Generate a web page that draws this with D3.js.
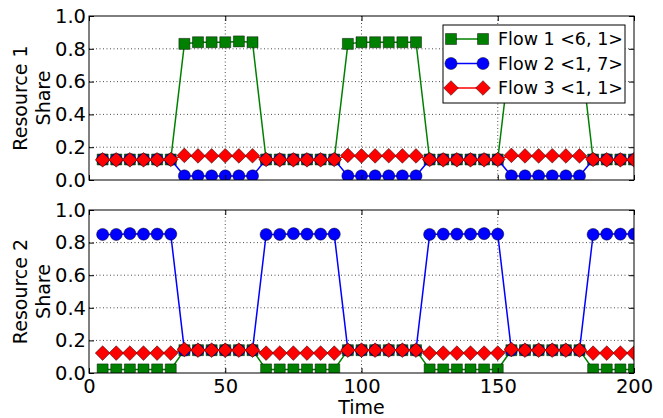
<!DOCTYPE html>
<html>
<head>
<meta charset="utf-8">
<script src="https://cdn.jsdelivr.net/npm/d3@7"></script>
<style>
  body { margin: 0; background: #fff; }
  text { font-family: "DejaVu Sans", sans-serif; }
</style>
</head>
<body>
<div id="vis"></div>
<script>
var width = 663, height = 418;

// time points (every 5 units)
var times = [5,10,15,20,25,30,35,40,45,50,55,60,65,70,75,80,85,90,95,100,
             105,110,115,120,125,130,135,140,145,150,155,160,165,170,175,180,185,190,195,200];

// resource 1 shares
var r1Flow1 = [0.125,0.125,0.125,0.125,0.125,0.125, 0.83,0.84,0.84,0.84,0.845,0.84,
               0.125,0.125,0.125,0.125,0.125,0.125, 0.83,0.84,0.84,0.84,0.84,0.84,
               0.125,0.125,0.125,0.125,0.125,0.125, 0.83,0.84,0.84,0.84,0.84,0.84,
               0.125,0.125,0.125,0.125];
var r1Flow2 = [0.125,0.125,0.125,0.125,0.125,0.125, 0.025,0.025,0.025,0.025,0.025,0.025,
               0.125,0.125,0.125,0.125,0.125,0.125, 0.025,0.025,0.025,0.025,0.025,0.025,
               0.125,0.125,0.125,0.125,0.125,0.125, 0.025,0.025,0.025,0.025,0.025,0.025,
               0.125,0.125,0.125,0.125];
var r1Flow3 = [0.123,0.123,0.123,0.123,0.123,0.125, 0.15,0.147,0.147,0.148,0.147,0.148,
               0.125,0.123,0.123,0.123,0.123,0.125, 0.15,0.147,0.147,0.148,0.147,0.147,
               0.125,0.123,0.123,0.123,0.123,0.125, 0.15,0.147,0.147,0.148,0.147,0.147,
               0.125,0.123,0.123,0.123];

// resource 2 shares
var r2Flow1 = [0.022,0.022,0.022,0.022,0.022,0.022, 0.14,0.14,0.14,0.14,0.14,0.14,
               0.022,0.022,0.022,0.022,0.022,0.022, 0.14,0.14,0.14,0.14,0.14,0.14,
               0.022,0.022,0.022,0.022,0.022,0.022, 0.14,0.14,0.14,0.14,0.14,0.14,
               0.022,0.022,0.022,0.022];
var r2Flow2 = [0.85,0.85,0.855,0.852,0.852,0.852, 0.14,0.14,0.14,0.14,0.14,0.14,
               0.85,0.85,0.855,0.852,0.852,0.852, 0.14,0.14,0.14,0.14,0.14,0.14,
               0.85,0.852,0.852,0.852,0.855,0.852, 0.14,0.14,0.14,0.14,0.14,0.14,
               0.85,0.852,0.852,0.852];
var r2Flow3 = [0.122,0.122,0.122,0.122,0.122,0.122, 0.145,0.14,0.14,0.14,0.14,0.14,
               0.122,0.122,0.122,0.122,0.122,0.122, 0.14,0.14,0.14,0.14,0.14,0.14,
               0.122,0.122,0.122,0.122,0.122,0.122, 0.145,0.14,0.14,0.14,0.14,0.14,
               0.122,0.122,0.122,0.122];

var flowNames = ["Flow 1 <6, 1>", "Flow 2 <1, 7>", "Flow 3 <1, 1>"];
var flowColors = ["#008000", "#0000ff", "#ff0000"];

var xTicks = [0, 50, 100, 150, 200];
var yTicks = [0, 0.2, 0.4, 0.6, 0.8, 1.0];

var left = 89, right = 634;
var panels = [
  { top: 16, bottom: 180, label: "Resource 1", series: [r1Flow1, r1Flow2, r1Flow3], xLabels: false, legend: true },
  { top: 210, bottom: 373, label: "Resource 2", series: [r2Flow1, r2Flow2, r2Flow3], xLabels: true, legend: false }
];

var svg = d3.select("#vis").append("svg")
  .attr("width", width)
  .attr("height", height);

var x = d3.scaleLinear().domain([0, 200]).range([left, right]);

// marker shapes like matplotlib 's', 'o', 'D'
var markerPath = [
  d3.symbol().type(d3.symbolSquare).size(121)(),
  d3.symbol().type(d3.symbolCircle).size(115)(),
  d3.symbol().type(d3.symbolSquare).size(108)()
];
var markerRot = ["", "", " rotate(45)"];

function drawMarker(sel, i) {
  sel.attr("d", markerPath[i])
    .attr("fill", flowColors[i])
    .attr("stroke", "#000")
    .attr("stroke-opacity", 0.75)
    .attr("stroke-width", 0.6);
}

panels.forEach(function(p, pi) {
  var y = d3.scaleLinear().domain([0, 1]).range([p.bottom, p.top]);
  var g = svg.append("g");

  var clipId = "clip" + pi;
  svg.append("clipPath").attr("id", clipId)
    .append("rect")
    .attr("x", left).attr("y", p.top)
    .attr("width", right - left).attr("height", p.bottom - p.top);

  // grid
  g.selectAll(".vgrid").data(xTicks.slice(1, -1)).enter().append("line")
    .attr("x1", d => x(d)).attr("x2", d => x(d))
    .attr("y1", p.top).attr("y2", p.bottom)
    .attr("stroke", "#000").attr("stroke-width", 0.7)
    .attr("stroke-dasharray", "1,2.5");
  g.selectAll(".hgrid").data(yTicks.slice(1, -1)).enter().append("line")
    .attr("x1", left).attr("x2", right)
    .attr("y1", d => y(d)).attr("y2", d => y(d))
    .attr("stroke", "#000").attr("stroke-width", 0.7)
    .attr("stroke-dasharray", "1,2.5");

  // series
  var plot = svg.append("g").attr("clip-path", "url(#" + clipId + ")");
  p.series.forEach(function(vals, si) {
    var pts = times.map((t, i) => [t, vals[i]]);
    plot.append("path")
      .datum(pts)
      .attr("fill", "none")
      .attr("stroke", flowColors[si])
      .attr("stroke-width", 1.5)
      .attr("d", d3.line().x(d => x(d[0])).y(d => y(d[1])));
    plot.selectAll(".m" + si).data(pts).enter().append("path")
      .attr("transform", d => "translate(" + x(d[0]) + "," + y(d[1]) + ")" + markerRot[si])
      .call(drawMarker, si);
  });

  // axes (ticks inward, on all sides)
  var yAxis = d3.axisLeft(y).tickValues(yTicks).tickFormat(d3.format(".1f"))
    .tickSizeInner(-5).tickSizeOuter(0).tickPadding(3);
  var ga = svg.append("g").attr("transform", "translate(" + left + ",0)").call(yAxis);
  ga.select(".domain").remove();
  ga.selectAll("text").attr("font-size", 19.5).attr("font-family", "DejaVu Sans").attr("fill", "#000");

  var yAxisR = d3.axisRight(y).tickValues(yTicks).tickFormat("").tickSizeInner(-5).tickSizeOuter(0);
  var gr = svg.append("g").attr("transform", "translate(" + right + ",0)").call(yAxisR);
  gr.select(".domain").remove();

  var xAxis = d3.axisBottom(x).tickValues(xTicks).tickFormat(p.xLabels ? d3.format("d") : "")
    .tickSizeInner(-5).tickSizeOuter(0).tickPadding(6);
  var gx = svg.append("g").attr("transform", "translate(0," + p.bottom + ")").call(xAxis);
  gx.select(".domain").remove();
  gx.selectAll("text").attr("font-size", 19.5).attr("font-family", "DejaVu Sans").attr("fill", "#000");

  var xAxisT = d3.axisTop(x).tickValues(xTicks).tickFormat("").tickSizeInner(-5).tickSizeOuter(0);
  var gt = svg.append("g").attr("transform", "translate(0," + p.top + ")").call(xAxisT);
  gt.select(".domain").remove();

  // frame
  svg.append("rect")
    .attr("x", left).attr("y", p.top)
    .attr("width", right - left).attr("height", p.bottom - p.top)
    .attr("fill", "none").attr("stroke", "#000").attr("stroke-width", 1);

  // y label, two lines
  var cy = (p.top + p.bottom) / 2;
  svg.append("text")
    .attr("transform", "translate(27," + cy + ") rotate(-90)")
    .attr("text-anchor", "middle")
    .attr("font-size", 19)
    .text(p.label);
  svg.append("text")
    .attr("transform", "translate(50," + cy + ") rotate(-90)")
    .attr("text-anchor", "middle")
    .attr("font-size", 19)
    .text("Share");

  if (p.legend) {
    var lg = svg.append("g").attr("transform", "translate(443,25)");
    lg.append("rect")
      .attr("width", 182).attr("height", 78)
      .attr("fill", "#fff").attr("stroke", "#000").attr("stroke-width", 1);
    flowNames.forEach(function(name, i) {
      var ly = 14 + i * 24.5;
      lg.append("line")
        .attr("x1", 8).attr("x2", 40).attr("y1", ly).attr("y2", ly)
        .attr("stroke", flowColors[i]).attr("stroke-width", 1.5);
      [8, 40].forEach(function(mx) {
        lg.append("path")
          .attr("transform", "translate(" + mx + "," + ly + ")" + markerRot[i])
          .call(drawMarker, i);
      });
      lg.append("text")
        .attr("x", 55).attr("y", ly)
        .attr("dy", "0.35em")
        .attr("font-size", 17.5)
        .text(name);
    });
  }
});

svg.append("text")
  .attr("x", (left + right) / 2).attr("y", 414)
  .attr("text-anchor", "middle")
  .attr("font-size", 19)
  .text("Time");
</script>
</body>
</html>
